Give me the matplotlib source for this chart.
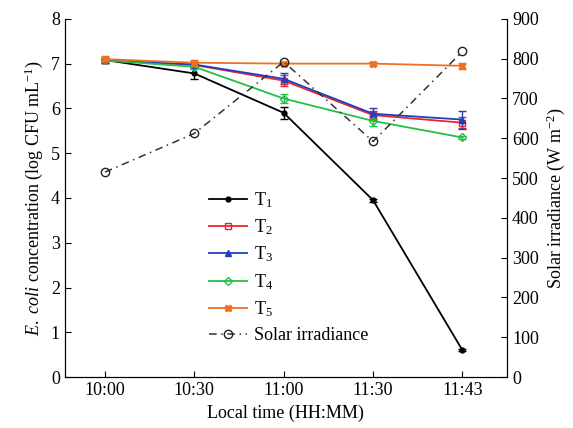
import numpy as np
import matplotlib
matplotlib.use('Agg')
import matplotlib.pyplot as plt
from matplotlib.lines import Line2D

plt.rcParams['font.family'] = 'Liberation Serif'
plt.rcParams['mathtext.fontset'] = 'custom'
plt.rcParams['mathtext.rm'] = 'Liberation Serif'
plt.rcParams['mathtext.it'] = 'Liberation Serif:italic'
plt.rcParams['font.size'] = 13

times = ['10:00', '10:30', '11:00', '11:30', '11:43']

t1 = [7.08, 6.78, 5.90, 3.95, 0.60]
t1_err = [0.03, 0.12, 0.13, 0.03, 0.02]
t2 = [7.07, 6.97, 6.62, 5.85, 5.68]
t2_err = [0.05, 0.05, 0.12, 0.10, 0.12]
t3 = [7.07, 6.98, 6.66, 5.88, 5.75]
t3_err = [0.05, 0.05, 0.12, 0.12, 0.20]
t4 = [7.07, 6.93, 6.22, 5.72, 5.35]
t4_err = [0.05, 0.05, 0.10, 0.12, 0.03]
t5 = [7.10, 7.02, 7.00, 7.00, 6.95]
t5_err = [0.08, 0.05, 0.04, 0.04, 0.06]
solar = [515, 612, 792, 592, 818]

x = np.arange(len(times))

fig, ax = plt.subplots(figsize=(5.73, 4.28), dpi=100)
fig.subplots_adjust(left=0.113, right=0.885, top=0.956, bottom=0.119)

series = [
    (t1, t1_err, '#000000', 'o', 'full', 3.5, 'T$_1$'),
    (t2, t2_err, '#e8262d', 's', 'none', 4, 'T$_2$'),
    (t3, t3_err, '#1f3fbf', '^', 'full', 5, 'T$_3$'),
    (t4, t4_err, '#22c04a', 'D', 'none', 4, 'T$_4$'),
    (t5, t5_err, '#f07020', 'X', 'full', 5, 'T$_5$'),
]
handles = []
for vals, err, col, mk, fill, ms, lab in series:
    ax.errorbar(x, vals, yerr=err, color=col, marker=mk, fillstyle=fill,
                markersize=ms, lw=1.3, capsize=3, elinewidth=1, ecolor=col)
    handles.append(Line2D([], [], color=col, marker=mk, fillstyle=fill,
                          markersize=ms, lw=1.3, label=lab))

ax.set_xlim(-0.45, 4.5)
ax.set_ylim(0, 8)
ax.set_xticks(x)
ax.set_xticklabels(times)
ax.set_yticks(range(0, 9))
ax.set_xlabel('Local time (HH:MM)')
ax.set_ylabel('$\\it{E.\\ coli}$ concentration (log CFU mL$^{-1}$)')
ax.spines['top'].set_visible(False)
ax.tick_params(direction='in', length=4)

ax2 = ax.twinx()
h_solar, = ax2.plot(x, solar, color='#333333', ls=(0, (5, 3, 1, 3)), lw=1.1,
                    marker='o', mfc='none', mec='#222222', markersize=6,
                    label='Solar irradiance')
ax2.set_ylim(0, 900)
ax2.set_yticks(range(0, 901, 100))
ax2.set_ylabel('Solar irradiance (W m$^{-2}$)')
ax2.spines['top'].set_visible(False)
ax2.tick_params(direction='in', length=4)

handles.append(h_solar)
ax.legend(handles=handles, loc='upper left', bbox_to_anchor=(0.29, 0.568),
          frameon=False, handlelength=2.1, handletextpad=0.4,
          labelspacing=0.43, fontsize=13)

fig.savefig('out.png', dpi=100)
